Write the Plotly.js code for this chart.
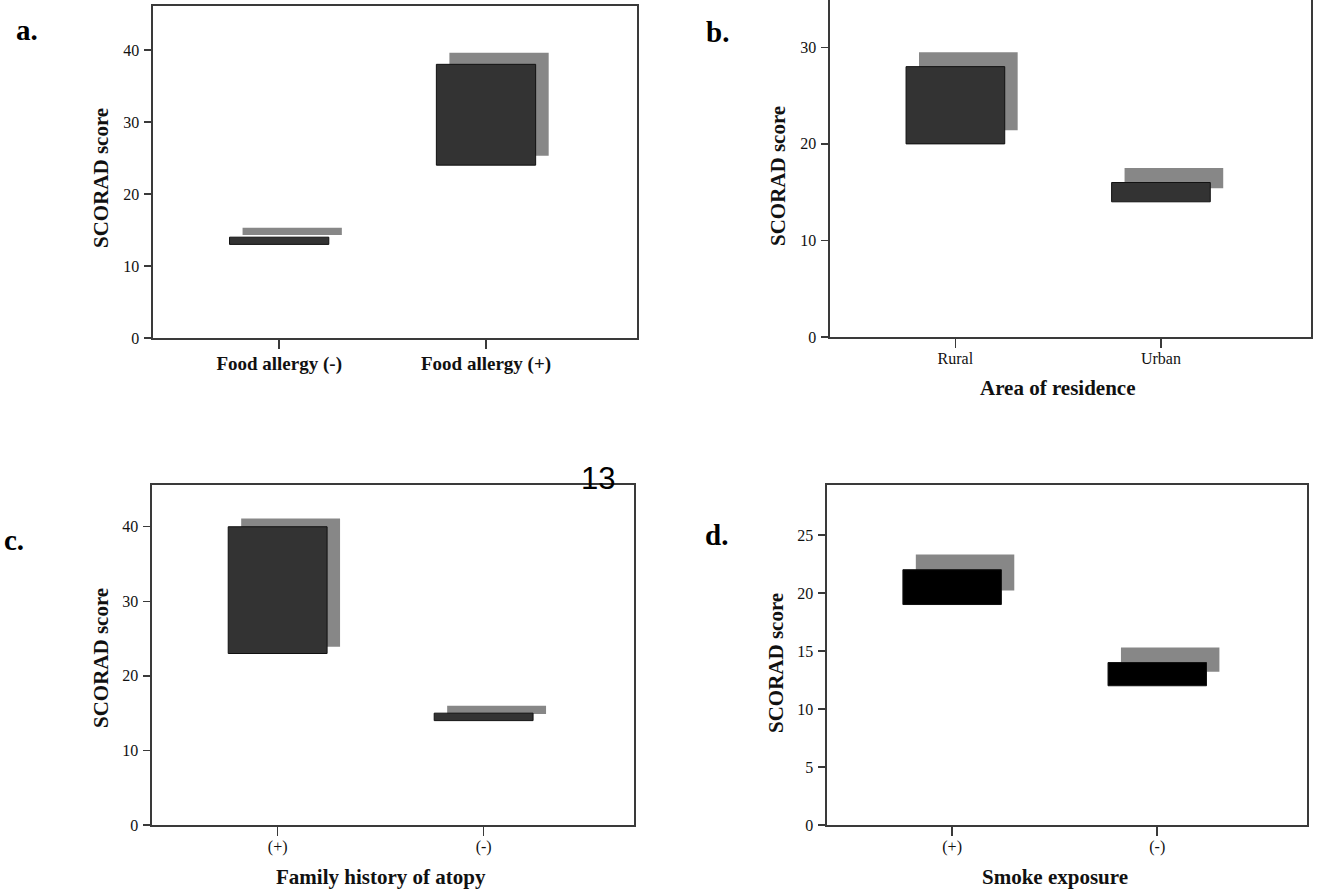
<!DOCTYPE html>
<html>
<head>
<meta charset="utf-8">
<script src="https://cdn.plot.ly/plotly-3.0.1.min.js"></script>
<style>html,body{margin:0;padding:0;background:#fff;}#chart{width:1323px;height:892px;}</style>
</head>
<body>
<div id="chart"></div>
<script>
// ---- data ----
const catsA = ["Food allergy (-)", "Food allergy (+)"];
const lowA = [13, 24];
const highA = [14, 38];
const shadowLowA = [14.3, 25.3];
const shadowHighA = [15.3, 39.6];

const catsB = ["Rural", "Urban"];
const lowB = [20, 14];
const highB = [28, 16];
const shadowLowB = [21.4, 15.4];
const shadowHighB = [29.5, 17.5];

const catsC = ["(+)", "(-)"];
const lowC = [23, 14];
const highC = [40, 15];
const shadowLowC = [23.9, 14.9];
const shadowHighC = [41.1, 16.0];

const catsD = ["(+)", "(-)"];
const lowD = [19, 12];
const highD = [22, 14];
const shadowLowD = [20.2, 13.2];
const shadowHighD = [23.3, 15.3];

const yTicksA = [0, 10, 20, 30, 40];
const yTicksB = [0, 10, 20, 30];
const yTicksC = [0, 10, 20, 30, 40];
const yTicksD = [0, 5, 10, 15, 20, 25];

const yTitle = "SCORAD score";
const xTitleB = "Area of residence";
const xTitleC = "Family history of atopy";
const xTitleD = "Smoke exposure";
const panelLabels = ["a.", "b.", "c.", "d."];
const pageNumber = "13";

// ---- styles ----
const W = 1323, H = 892;
const SERIF = "Liberation Serif, Times New Roman, serif";
const FRAME = "#3a3a3a";
const BAR_W = 0.48;
const DARK_OFF = -0.24;
const SHADOW_OFF = -0.177;

function px2x(p){ return p / W; }
function px2y(p){ return 1 - p / H; }

const panels = [
  {k:"", cats:catsA, low:lowA, high:highA, sl:shadowLowA, sh:shadowHighA, dark:"#333333",
   xd:[153,637], yd:[6,338], yr:[0,46.1], yt:yTicksA, boldX:true, mirrorX:true},
  {k:"2", cats:catsB, low:lowB, high:highB, sl:shadowLowB, sh:shadowHighB, dark:"#333333",
   xd:[830,1311], yd:[0,337], yr:[0,34.9], yt:yTicksB, boldX:false, mirrorX:false},
  {k:"3", cats:catsC, low:lowC, high:highC, sl:shadowLowC, sh:shadowHighC, dark:"#333333",
   xd:[152,634], yd:[485,825], yr:[0,45.6], yt:yTicksC, boldX:false, mirrorX:true},
  {k:"4", cats:catsD, low:lowD, high:highD, sl:shadowLowD, sh:shadowHighD, dark:"#000000",
   xd:[827,1307], yd:[485,825], yr:[0,29.3], yt:yTicksD, boldX:false, mirrorX:true}
];

const traces = [];
const layout = {
  width: W, height: H,
  margin: {l:0, r:0, t:0, b:0},
  paper_bgcolor: "#ffffff", plot_bgcolor: "#ffffff",
  showlegend: false, barmode: "overlay",
  annotations: [], shapes: []
};

panels.forEach(p => {
  const xa = "x" + p.k, ya = "y" + p.k;
  const diff = (h, l) => h.map((v, i) => v - l[i]);
  traces.push({
    type: "bar", x: p.cats, y: diff(p.sh, p.sl), base: p.sl,
    xaxis: xa, yaxis: ya, width: BAR_W, offset: SHADOW_OFF,
    marker: {color: "#878787", line: {width: 0}}, hoverinfo: "skip"
  });
  traces.push({
    type: "bar", x: p.cats, y: diff(p.high, p.low), base: p.low,
    xaxis: xa, yaxis: ya, width: BAR_W, offset: DARK_OFF,
    marker: {color: p.dark, line: {width: 1, color: "#111111"}}, hoverinfo: "skip"
  });
  layout["xaxis" + p.k] = {
    domain: [px2x(p.xd[0]), px2x(p.xd[1])],
    anchor: ya, type: "category", range: [-0.61, 1.73],
    showline: true, linecolor: FRAME, linewidth: 1.6, mirror: p.mirrorX,
    ticks: "outside", ticklen: 9, tickwidth: 1.6, tickcolor: FRAME,
    ticklabelstandoff: p.boldX ? -1 : -3,
    showgrid: false, zeroline: false, fixedrange: true,
    tickfont: {family: SERIF, size: p.boldX ? 19 : 16, color: "#111",
               weight: p.boldX ? "bold" : "normal"}
  };
  layout["yaxis" + p.k] = {
    domain: [px2y(p.yd[1]), px2y(p.yd[0])],
    anchor: xa, range: p.yr, tickvals: p.yt,
    showline: true, linecolor: FRAME, linewidth: 1.6, mirror: true,
    ticks: "outside", ticklen: 7, tickwidth: 1.4, tickcolor: FRAME,
    ticklabelstandoff: 2,
    showgrid: false, zeroline: false, fixedrange: true,
    tickfont: {family: SERIF, size: 16, color: "#111"}
  };
});

// y axis titles
const yTitlePos = [[101, 178], [778, 176], [101, 658], [776, 663]];
yTitlePos.forEach(pos => {
  layout.annotations.push({
    text: yTitle, textangle: -90, showarrow: false,
    xref: "paper", yref: "paper", x: px2x(pos[0]), y: px2y(pos[1]),
    xanchor: "center", yanchor: "middle",
    font: {family: SERIF, size: 21, color: "#111", weight: "bold"}
  });
});

// x axis titles (centred between the two categories)
[[xTitleB, "x2", 388], [xTitleC, "x3", 877], [xTitleD, "x4", 877]].forEach(t => {
  layout.annotations.push({
    text: t[0], showarrow: false, xref: t[1], yref: "paper",
    x: 0.5, y: px2y(t[2]), xanchor: "center", yanchor: "middle",
    font: {family: SERIF, size: 21, color: "#111", weight: "bold"}
  });
});

// panel letters
const labelPos = [[27, 30], [717, 32], [14, 540], [716, 535]];
panelLabels.forEach((lab, i) => {
  layout.annotations.push({
    text: lab, showarrow: false, xref: "paper", yref: "paper",
    x: px2x(labelPos[i][0]), y: px2y(labelPos[i][1]),
    xanchor: "center", yanchor: "middle",
    font: {family: SERIF, size: 29, color: "#000", weight: "bold"}
  });
});

// page number
layout.annotations.push({
  text: pageNumber, showarrow: false, xref: "paper", yref: "paper",
  x: px2x(598), y: px2y(478), xanchor: "center", yanchor: "middle",
  font: {family: "Liberation Sans, Arial, sans-serif", size: 31, color: "#000"}
});

Plotly.newPlot("chart", traces, layout, {displayModeBar: false, staticPlot: true});
</script>
</body>
</html>
